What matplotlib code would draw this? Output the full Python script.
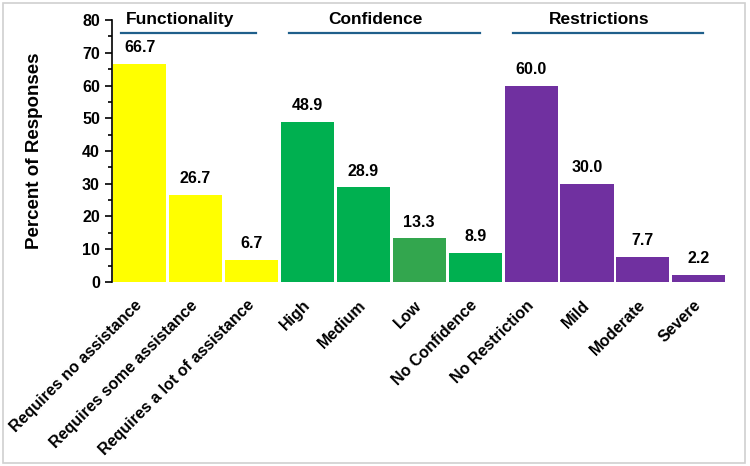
import numpy as np
import matplotlib.pyplot as plt
from matplotlib.patches import Rectangle

plt.rcParams['font.family'] = ['Liberation Sans', 'DejaVu Sans']
plt.rcParams['font.weight'] = 'bold'

# Datos
categorias = ["Requires no assistance", "Requires some assistance", "Requires a lot of assistance",
              "High", "Medium", "Low", "No Confidence",
              "No Restriction", "Mild", "Moderate", "Severe"]
valores = [66.7, 26.7, 6.7, 48.9, 28.9, 13.3, 8.9, 60.0, 30.0, 7.7, 2.2]
colores = ["#FFFF00", "#FFFF00", "#FFFF00",
           "#00B050", "#00B050", "#33A64E", "#00B050",
           "#7030A0", "#7030A0", "#7030A0", "#7030A0"]
grupos = ["Functionality", "Confidence", "Restrictions"]
grupo_inicio = [0, 3, 7]
grupo_fin = [2, 6, 10]

fig = plt.figure(figsize=(7.5, 4.66), dpi=100)
ax = fig.add_axes([0.149, 0.395, 0.820, 0.562])

x = np.arange(len(categorias))
ax.bar(x, valores, width=0.95, color=colores, edgecolor='none')

for xi, v in zip(x, valores):
    ax.text(xi, v + 2.6, f"{v:.1f}", ha='center', va='bottom', fontsize=11.5, fontweight='bold')

ax.set_xlim(-0.5, len(categorias) - 0.5)
ax.set_ylim(0, 80)
ax.set_yticks(np.arange(0, 81, 10))
ax.set_yticks(np.arange(0, 81, 5), minor=True)
ax.tick_params(axis='y', labelsize=11.5, direction='out', length=5, width=1.2)
ax.tick_params(axis='y', which='minor', length=3, width=1.2)
ax.set_xticks(x)
ax.set_xticklabels(categorias, rotation=45, ha='right', va='center', rotation_mode='anchor', fontsize=11.5)
ax.tick_params(axis='x', length=0, pad=15)
ax.set_ylabel("Percent of Responses", fontsize=13.5, fontweight='bold')
ax.yaxis.set_label_coords(-0.112, 0.5)

for s in ['top', 'right', 'bottom']:
    ax.spines[s].set_visible(False)
ax.spines['left'].set_linewidth(1.2)

# Encabezados de grupo
for nombre, i0, i1 in zip(grupos, grupo_inicio, grupo_fin):
    x0, x1 = i0 - 0.33, i1 + 0.08
    ax.plot([x0, x1], [76.0, 76.0], color="#1F5F8B", lw=1.6, clip_on=False)
    ax.text((x0 + x1) / 2 - 0.15, 78.7, nombre, ha='center', va='baseline', fontsize=12.5, fontweight='bold')

# Marco del grafico
fig.patches.append(Rectangle((3 / 750, 3 / 466), 742 / 750, 460 / 466, transform=fig.transFigure,
                             fill=False, edgecolor="#D0D0D0", lw=1.2))

fig.savefig("out.png", dpi=100)
